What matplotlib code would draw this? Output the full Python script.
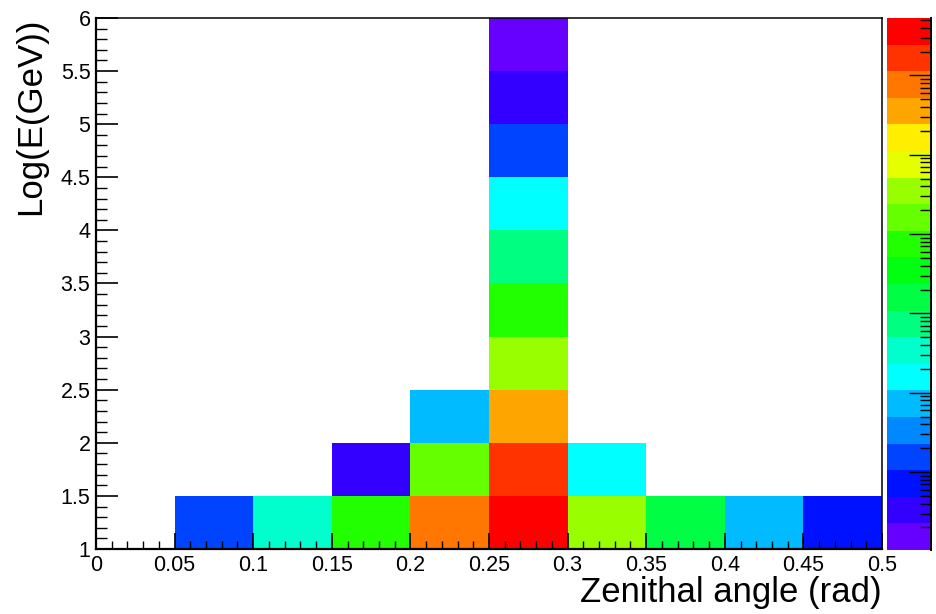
"""
Energy vs zenith angle 2D histogram, ROOT COLZ style with log z.
"""

import matplotlib
matplotlib.use("Agg")
import matplotlib.pyplot as plt
import numpy as np
from matplotlib.colors import ListedColormap, LogNorm
from matplotlib.ticker import MultipleLocator, FixedLocator, FixedFormatter

plt.rcParams['font.family'] = ['Liberation Sans', 'DejaVu Sans']

# Bin edges
x_edges = [0.0, 0.05, 0.1, 0.15, 0.2, 0.25, 0.3, 0.35, 0.4, 0.45, 0.5]
y_edges = [1.0, 1.5, 2.0, 2.5, 3.0, 3.5, 4.0, 4.5, 5.0, 5.5, 6.0]

# Bin contents, one row per energy bin (bottom to top), 0 = empty
row_1_0 = [0, 15.5, 340, 7480, 771000, 3610000, 35100, 1600, 73, 7.2]
row_1_5 = [0, 0, 0, 3.3, 16200, 1670000, 157, 0, 0, 0]
row_2_0 = [0, 0, 0, 0, 73, 356000, 0, 0, 0, 0]
row_2_5 = [0, 0, 0, 0, 0, 35100, 0, 0, 0, 0]
row_3_0 = [0, 0, 0, 0, 0, 7480, 0, 0, 0, 0]
row_3_5 = [0, 0, 0, 0, 0, 738, 0, 0, 0, 0]
row_4_0 = [0, 0, 0, 0, 0, 157, 0, 0, 0, 0]
row_4_5 = [0, 0, 0, 0, 0, 15.5, 0, 0, 0, 0]
row_5_0 = [0, 0, 0, 0, 0, 3.3, 0, 0, 0, 0]
row_5_5 = [0, 0, 0, 0, 0, 1.5, 0, 0, 0, 0]

z_min = 1.04
z_max = 5.3e6

x_tick_values = [0, 0.05, 0.1, 0.15, 0.2, 0.25, 0.3, 0.35, 0.4, 0.45, 0.5]
x_tick_labels = ['0', '0.05', '0.1', '0.15', '0.2', '0.25', '0.3', '0.35', '0.4', '0.45', '0.5']
y_tick_values = [1, 1.5, 2, 2.5, 3, 3.5, 4, 4.5, 5, 5.5, 6]
y_tick_labels = ['1', '1.5', '2', '2.5', '3', '3.5', '4', '4.5', '5', '5.5', '6']

# ROOT "pretty" palette, 20 contour levels (bottom to top)
palette = ['#6600ff', '#3300ff', '#0011ff', '#0044ff', '#0088ff',
           '#00bbff', '#00ffff', '#00ffcc', '#00ff80', '#00ff44',
           '#00ff11', '#22ff00', '#66ff00', '#99ff00', '#e6ff00',
           '#ffee00', '#ffa500', '#ff7700', '#ff3300', '#ff0000']

counts = np.array([row_1_0, row_1_5, row_2_0, row_2_5, row_3_0,
                   row_3_5, row_4_0, row_4_5, row_5_0, row_5_5], dtype=float)
counts = np.ma.masked_less_equal(counts, 0)

fig = plt.figure(figsize=(9.36, 6.14), dpi=100)
ax = fig.add_axes([96 / 936, 65 / 614, 786 / 936, 531 / 614])
cax = fig.add_axes([887 / 936, 64 / 614, 44 / 936, 532 / 614])

cmap = ListedColormap(palette)
norm = LogNorm(vmin=z_min, vmax=z_max)
mesh = ax.pcolormesh(x_edges, y_edges, counts, cmap=cmap, norm=norm)

ax.set_xlim(0, 0.5)
ax.set_ylim(1, 6)

ax.xaxis.set_major_locator(FixedLocator(x_tick_values))
ax.xaxis.set_major_formatter(FixedFormatter(x_tick_labels))
ax.xaxis.set_minor_locator(MultipleLocator(0.01))
ax.yaxis.set_major_locator(FixedLocator(y_tick_values))
ax.yaxis.set_major_formatter(FixedFormatter(y_tick_labels))
ax.yaxis.set_minor_locator(MultipleLocator(0.1))

ax.tick_params(axis='x', which='major', direction='in', length=11.5, width=1.2,
               labelsize=15.5, pad=4, top=False)
ax.tick_params(axis='x', which='minor', direction='in', length=5.8, width=1.0, top=False)
ax.tick_params(axis='y', which='major', direction='in', length=16, width=1.2,
               labelsize=15.5, pad=4, right=False)
ax.tick_params(axis='y', which='minor', direction='in', length=8, width=1.0, right=False)

for side in ['left', 'bottom']:
    ax.spines[side].set_linewidth(1.6)
for side in ['top', 'right']:
    ax.spines[side].set_linewidth(1.1)

ax.set_xlabel('Zenithal angle (rad)', fontsize=25, loc='right', labelpad=0)
ax.set_ylabel('Log(E(GeV))', fontsize=25, loc='top', labelpad=10)

cb = fig.colorbar(mesh, cax=cax)
cb.outline.set_visible(False)
cax.tick_params(which='both', direction='in', right=True, left=False,
                labelright=False, labelleft=False, width=1.0)
cax.tick_params(which='major', length=16)
cax.tick_params(which='minor', length=8)
cax.plot([1, 1], [0, 1], transform=cax.transAxes, color='black', lw=1.4, clip_on=False)

plt.savefig('out.png', dpi=100)
